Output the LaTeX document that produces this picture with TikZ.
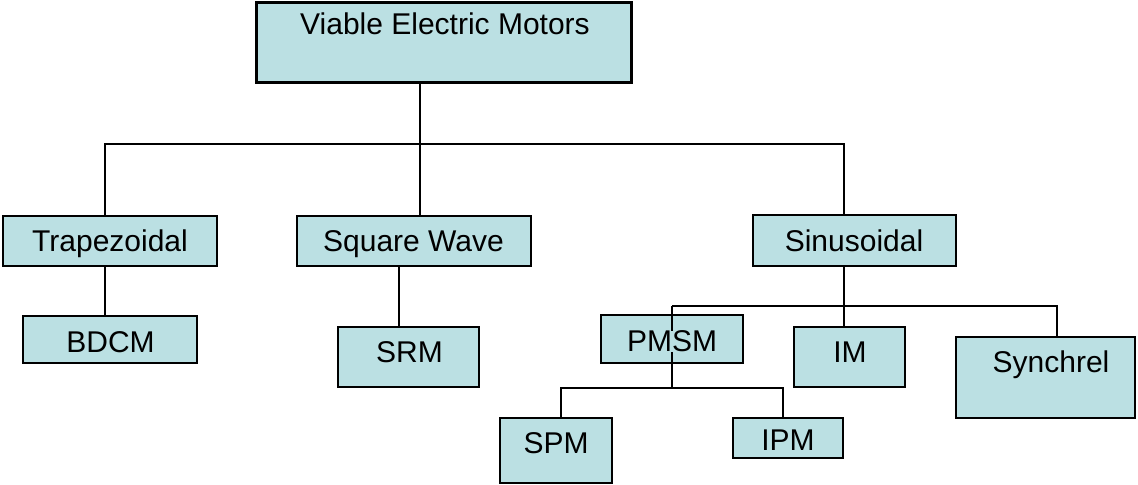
\documentclass[tikz,border=0pt]{standalone}
\usepackage{fontspec}
\setmainfont{Liberation Sans}
\definecolor{boxfill}{RGB}{187,224,227}
\begin{document}
\begin{tikzpicture}[x=0.5pt,y=-0.5pt,
  box/.style={draw=black,line width=1.1pt,fill=boxfill,rectangle,inner sep=0pt,outer sep=0pt},
  lbl/.style={font=\fontsize{15}{18}\selectfont,inner sep=0pt,anchor=base},
  conn/.style={line width=0.95pt,draw=black}]
\useasboundingbox (0,0) rectangle (1138,485);
% boxes
\node[box,line width=1.5pt,minimum width=187.5pt,minimum height=40pt] (top) at (443.5,43) {};
\node[box,minimum width=107pt,minimum height=25pt] (trap) at (110,241) {};
\node[box,minimum width=117pt,minimum height=25pt] (sq) at (414,241) {};
\node[box,minimum width=101.5pt,minimum height=25.5pt] (sin) at (854.5,240.5) {};
\node[box,minimum width=87pt,minimum height=23.5pt] (bdcm) at (110,339.5) {};
\node[box,minimum width=70.5pt,minimum height=30pt] (srm) at (408.5,357) {};
\node[box,minimum width=71pt,minimum height=24pt] (pmsm) at (672,339) {};
\node[box,minimum width=55.5pt,minimum height=30pt] (im) at (849.5,357) {};
\node[box,minimum width=89.5pt,minimum height=40.5pt] (syn) at (1045.5,377.5) {};
\node[box,minimum width=56pt,minimum height=32.5pt] (spm) at (556,450.5) {};
\node[box,minimum width=55pt,minimum height=20pt] (ipm) at (788,438) {};
% junction coordinates
\coordinate (h1) at (105,144);
\coordinate (h2) at (844,144);
\coordinate (h3) at (672,306);
\coordinate (h4) at (1057,306);
\coordinate (h5) at (561,388);
\coordinate (h6) at (783,388);
\coordinate (vs) at (420,0);
\coordinate (vr) at (399,0);
% connectors
\draw[conn] (top.south -| vs) -- (sq.north -| vs);
\draw[conn] (trap.north -| h1) -- (h1) -- (h2) -- (sin.north -| h2);
\draw[conn] (trap.south -| h1) -- (bdcm.north -| h1);
\draw[conn] (sq.south -| vr) -- (srm.north -| vr);
\draw[conn] (sin.south -| h2) -- (im.north -| h2);
\draw[conn] (pmsm.center |- h3) -- (h4) -- (syn.north -| h4);
\draw[conn] (pmsm.center |- h3) -- (pmsm.center |- h5);
\draw[conn] (spm.north -| h5) -- (h5) -- (h6) -- (ipm.north -| h6);
% labels
\node[lbl] (ttop) at (445,35) {Viable Electric Motors};
\node[lbl] (ttrap) at (110,252) {Trapezoidal};
\node[lbl] (tsq) at (413.5,252) {Square Wave};
\node[lbl] (tsin) at (854,252) {Sinusoidal};
\node[lbl] (tbdcm) at (110.5,353) {BDCM};
\node[lbl] (tsrm) at (409.5,363) {SRM};
\node[lbl,fill=boxfill] (tpmsm) at (672,352) {PMSM};
\node[lbl] (tim) at (850,363) {IM};
\node[lbl] (tsyn) at (1051,372) {Synchrel};
\node[lbl] (tspm) at (556,453) {SPM};
\node[lbl] (tipm) at (788,450) {IPM};
\end{tikzpicture}
\end{document}
